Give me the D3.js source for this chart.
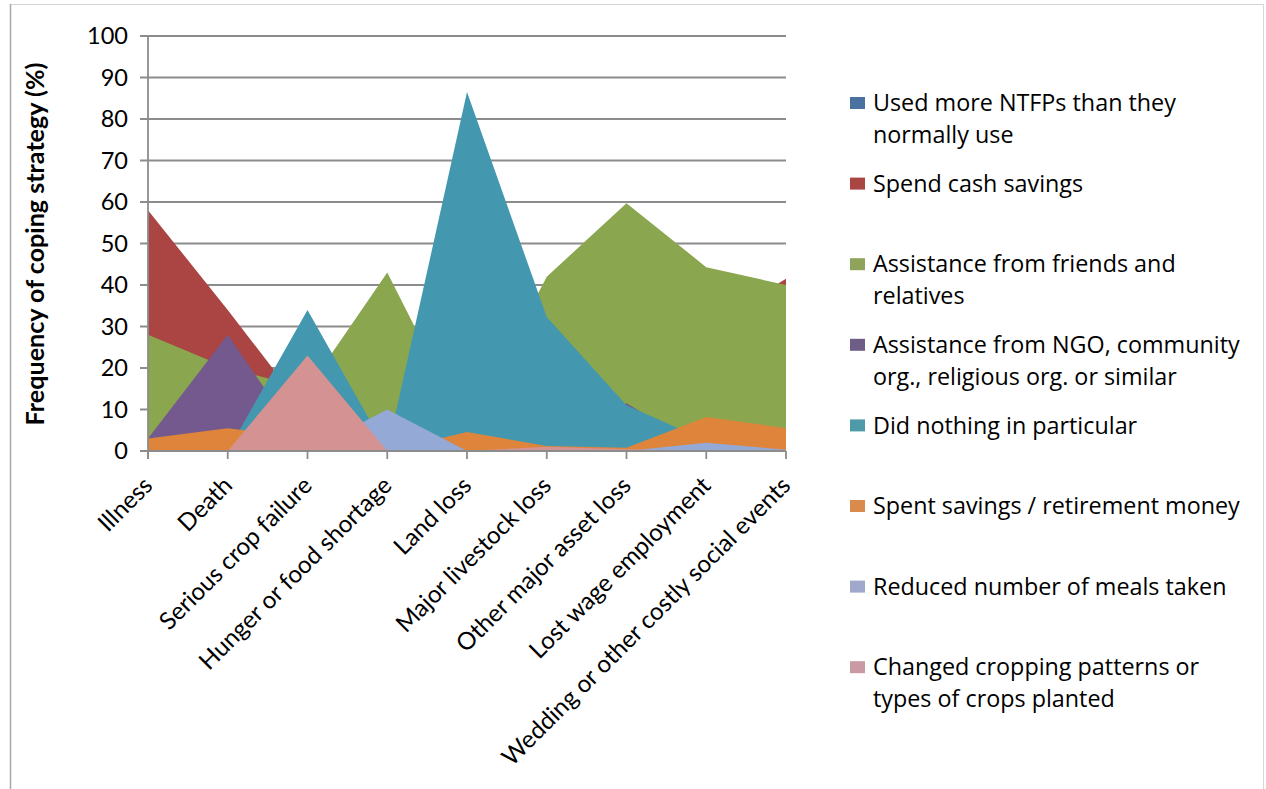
<!DOCTYPE html>
<html>
<head>
<meta charset="utf-8">
<script src="https://cdn.jsdelivr.net/npm/d3@7/dist/d3.min.js"></script>
<style>
  html, body { margin: 0; padding: 0; background: #ffffff; }
  svg { display: block; }
</style>
</head>
<body>
<svg id="chart" width="1266" height="789"></svg>
<script>
// Shock categories along the x axis
const categories = [
  "Illness", "Death", "Serious crop failure", "Hunger or food shortage",
  "Land loss", "Major livestock loss", "Other major asset loss",
  "Lost wage employment", "Wedding or other costly social events"
];

// Frequency of each coping strategy (%) per shock
const usedNTFPs          = [0, 0, 0, 0, 0, 0, 0, 0, 0];
const spendCashSavings   = [58, 34, 9, 20, 30, 35, 30, 30, 41.5];
const friendsRelatives   = [28, 20, 15, 43, 5, 42, 59.7, 44.3, 40];
const ngoAssistance      = [3, 28, 0, 0, 0, 0, 11.5, 0, 0];
const didNothing         = [0, 0, 34, 0, 86.5, 32.3, 11, 2.5, 0];
const retirementMoney    = [3, 5.5, 3, 0, 4.6, 1.2, 0.8, 8.2, 5.5];
const reducedMeals       = [0, 0, 0, 10, 0, 0, 0, 2, 0.3];
const changedCropping    = [0, 0, 23, 0, 0, 1, 0.4, 0, 0];

const seriesNames = [
  "Used more NTFPs than they normally use",
  "Spend cash savings",
  "Assistance from friends and relatives",
  "Assistance from NGO, community org., religious org. or similar",
  "Did nothing in particular",
  "Spent savings / retirement money",
  "Reduced number of meals taken",
  "Changed cropping patterns or types of crops planted"
];
const seriesValues = [usedNTFPs, spendCashSavings, friendsRelatives, ngoAssistance,
                      didNothing, retirementMoney, reducedMeals, changedCropping];

// Legend text, wrapped as in the chart
const legendLines = [
  ["Used more NTFPs than they", "normally use"],
  ["Spend cash savings"],
  ["Assistance from friends and", "relatives"],
  ["Assistance from NGO, community", "org., religious org. or similar"],
  ["Did nothing in particular"],
  ["Spent savings / retirement money"],
  ["Reduced number of meals taken"],
  ["Changed cropping patterns or", "types of crops planted"]
];

const yTicks = [0, 10, 20, 30, 40, 50, 60, 70, 80, 90, 100];
const yTitle = "Frequency of coping strategy (%)";

const areaColors   = ["#4a76a8", "#ab4543", "#8aa64f", "#74598f", "#4398b0", "#de853b", "#94a9d5", "#d49292"];
const swatchColors = ["#4a72a0", "#a94643", "#8fa45a", "#6e5e86", "#4e9aa8", "#d98b4e", "#a0a8cc", "#c99aa4"];

const svg = d3.select("#chart");
const gridColor = "#8c8c8c";

// Size a font so that a sample string reaches a given width
function fitSize(family, weight, sample, target) {
  const t = svg.append("text").attr("font-family", family).attr("font-weight", weight)
    .attr("font-size", 100).text(sample);
  const len = t.node().getComputedTextLength();
  t.remove();
  return 100 * target / len;
}

// Outer frame
svg.append("rect").attr("x", 10.5).attr("y", 4.5).attr("width", 1253).attr("height", 800)
  .attr("fill", "none").attr("stroke", "#d6d6d6").attr("stroke-width", 1);
svg.append("line").attr("x1", 10.5).attr("x2", 10.5).attr("y1", 4).attr("y2", 789)
  .attr("stroke", "#a8a8a8").attr("stroke-width", 1.5);

const x = d3.scalePoint().domain(categories).range([148, 786]);
const y = d3.scaleLinear().domain([0, 100]).range([451, 36]);

// Horizontal gridlines with their short outside ticks
svg.append("g").selectAll("line").data(yTicks).join("line")
  .attr("x1", 140).attr("x2", 786)
  .attr("y1", d => y(d)).attr("y2", d => y(d))
  .attr("stroke", gridColor).attr("stroke-width", 1.8);

// Overlapping areas, first series at the back
const area = d3.area()
  .x((d, i) => x(categories[i]))
  .y0(y(0))
  .y1(d => y(d));

svg.append("g").selectAll("path").data(seriesValues).join("path")
  .attr("d", d => area(d))
  .attr("fill", (d, i) => areaColors[i]);

// Axis lines and category ticks
svg.append("line").attr("x1", 148).attr("x2", 148).attr("y1", y(100)).attr("y2", y(0) + 8)
  .attr("stroke", gridColor).attr("stroke-width", 1.8);
svg.append("line").attr("x1", 140).attr("x2", 786).attr("y1", y(0)).attr("y2", y(0))
  .attr("stroke", gridColor).attr("stroke-width", 1.8);
svg.append("g").selectAll("line").data(categories).join("line")
  .attr("x1", d => x(d)).attr("x2", d => x(d))
  .attr("y1", y(0)).attr("y2", y(0) + 8)
  .attr("stroke", gridColor).attr("stroke-width", 1.8);

// Y tick labels
const axisFont = "Lato, 'Open Sans', sans-serif";
const tickSize = fitSize(axisFont, 400, "100", 41);
svg.append("g").selectAll("text").data(yTicks).join("text")
  .attr("x", 128).attr("y", d => y(d))
  .attr("dy", "0.35em")
  .attr("text-anchor", "end")
  .attr("font-family", axisFont).attr("font-size", tickSize)
  .attr("fill", "#000")
  .text(d => d);

// Rotated category labels
const catSize = fitSize(axisFont, 400, categories[categories.length - 1], 396);
svg.append("g").selectAll("text").data(categories).join("text")
  .attr("transform", d => `translate(${x(d) + 6},${487}) rotate(-45)`)
  .attr("text-anchor", "end")
  .attr("font-family", axisFont).attr("font-size", catSize)
  .attr("fill", "#000")
  .text(d => d);

// Y axis title
const titleSize = fitSize(axisFont, 700, yTitle, 363);
svg.append("text")
  .attr("transform", `translate(35,${244}) rotate(-90)`)
  .attr("text-anchor", "middle")
  .attr("dy", "0.35em")
  .attr("font-family", axisFont).attr("font-weight", 700).attr("font-size", titleSize)
  .attr("fill", "#000")
  .text(yTitle);

// Legend
const legendFont = "'Open Sans', sans-serif";
const legendSize = fitSize(legendFont, 400, "Spent savings / retirement money", 367);
const legendTop = 103, legendStep = 80.6, lineGap = 32;
const legend = svg.append("g");
legendLines.forEach((lines, i) => {
  const cy = legendTop + i * legendStep;
  legend.append("rect")
    .attr("x", 850).attr("y", cy - 6).attr("width", 15).attr("height", 12)
    .attr("fill", swatchColors[i]);
  lines.forEach((ln, j) => {
    legend.append("text")
      .attr("x", 873).attr("y", cy + j * lineGap)
      .attr("dy", "0.35em")
      .attr("font-family", legendFont).attr("font-size", legendSize)
      .attr("fill", "#000")
      .text(ln);
  });
});
</script>
</body>
</html>
